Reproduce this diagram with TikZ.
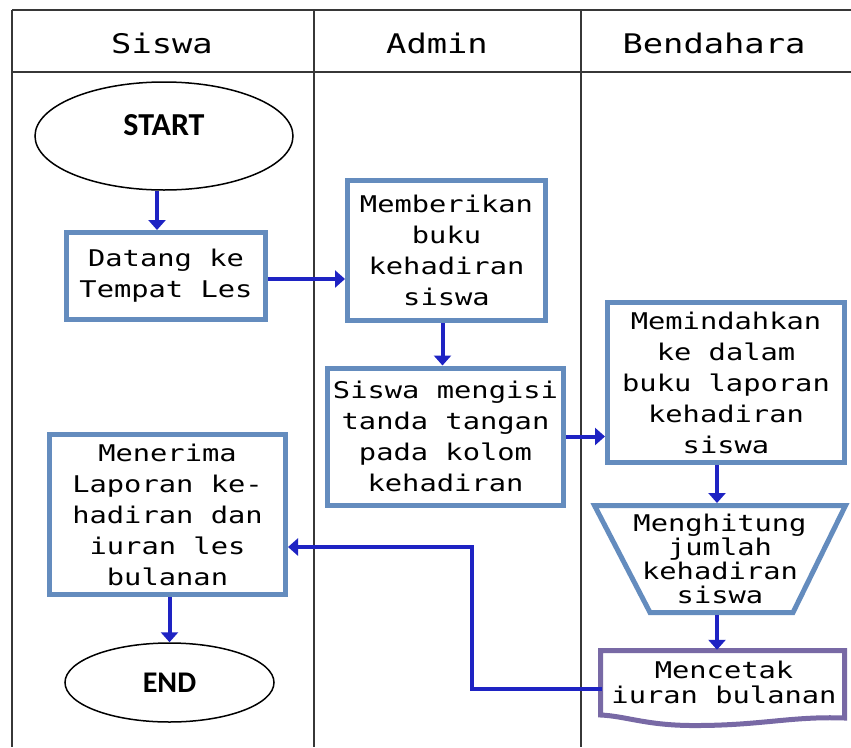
\documentclass[tikz,border=0pt]{standalone}
\usepackage{fontspec}
\usetikzlibrary{arrows.meta,shapes.geometric,calc}
\newfontfamily\pixmono[FakeStretch=1.25]{DejaVu Sans Mono}
\newfontfamily\termfont{Carlito}
\definecolor{laneline}{RGB}{55,55,55}
\definecolor{boxblue}{RGB}{100,140,190}
\definecolor{flowblue}{RGB}{30,35,195}
\definecolor{docline}{RGB}{120,105,165}

\begin{document}
\begin{tikzpicture}[x=1pt,y=-1pt,
  lane/.style={draw=laneline,line width=2pt},
  lanetitle/.style={inner sep=0pt,font={\pixmono\fontsize{27}{30}\selectfont}},
  proctext/.style={align=center,inner sep=0pt,font={\pixmono\fontsize{23}{31}\selectfont}},
  procbox/.style={proctext,draw=boxblue,line width=5pt,fill=white},
  terminal/.style={ellipse,draw=black,line width=1.5pt,fill=white,inner sep=0pt},
  termlabel/.style={font={\termfont\bfseries\fontsize{32}{34}\selectfont}},
  flow/.style={draw=flowblue,line width=4pt,-{Triangle[width=17pt,length=10pt]}},
]
\useasboundingbox[fill=white] (0,0) rectangle (851,747);

% swimlane frame
\draw[lane] (12,10) -- (851,10);
\draw[lane] (12,72) -- (851,72);
\draw[lane] (12,10) -- (12,747);
\draw[lane] (314,10) -- (314,747);
\draw[lane] (581,10) -- (581,747);

\node[lanetitle] (laneA) at (162,43) {Siswa};
\node[lanetitle] (laneB) at (437,43) {Admin};
\node[lanetitle] (laneC) at (714,43) {Bendahara};

% Siswa lane
\node[terminal,minimum width=258,minimum height=108,
      label={[termlabel,yshift=11pt]center:START}] (start) at (164,136) {};
\node[procbox,minimum width=199,minimum height=87] (arrive) at (166,276)
  {Datang ke\\Tempat Les};
\node[procbox,minimum width=236,minimum height=160] (receive) at (167.5,514.5)
  {Menerima\\Laporan ke-\\hadiran dan\\iuran les\\bulanan};
\node[terminal,minimum width=209,minimum height=79,
      label={[termlabel,font={\termfont\bfseries\fontsize{30}{32}\selectfont}]center:END}] (end) at (169.5,682.5) {};

% Admin lane
\node[procbox,minimum width=198,minimum height=140] (give) at (446.5,250.5)
  {Memberikan\\buku\\kehadiran\\siswa};
\node[procbox,minimum width=236,minimum height=137] (sign) at (445.5,436.5)
  {Siswa mengisi\\tanda tangan\\pada kolom\\kehadiran};

% Bendahara lane
\node[procbox,minimum width=237,minimum height=160] (move) at (726,382.5)
  {Memindahkan\\ke dalam\\buku laporan\\kehadiran\\siswa};

% manual operation (inverted trapezium)
\draw[draw=boxblue,line width=5pt,fill=white,line join=miter]
  (594.5,505.5) -- (845.5,505.5) -- (793,612.5) -- (650,612.5) -- cycle;
\node[proctext,font={\pixmono\fontsize{23}{24}\selectfont}] (count) at (720,559)
  {Menghitung\\jumlah\\kehadiran\\siswa};
\coordinate (ctop) at (717,503);
\coordinate (cbot) at (717,615);

% printed document
\draw[draw=docline,line width=5pt,fill=white,line join=miter]
  (600.5,650.5) -- (844.5,650.5) -- (844.5,718)
  .. controls (790,716) and (760,726) .. (690,725.5)
  .. controls (645,725) and (625,716) .. (600.5,715) -- cycle;
\node[proctext,font={\pixmono\fontsize{23}{25}\selectfont},
      minimum width=244,minimum height=64] (print) at (724,682)
  {Mencetak\\iuran bulanan};
\coordinate (turn) at (472,547);

% connectors
\draw[flow] ([xshift=-7pt]start.south) -- ([xshift=-7pt]start.south |- arrive.north);
\draw[flow] ([yshift=-3pt]arrive.east) -- ([yshift=-3pt]arrive.east -| give.west);
\draw[flow] ([xshift=-4pt]give.south) -- ([xshift=-4pt]give.south |- sign.north);
\draw[flow] (sign.east) -- (sign.east -| move.west);
\draw[flow] (move.south -| ctop) -- (ctop);
\draw[flow] (cbot) -- (cbot |- print.north);
\draw[flow] ([yshift=-7pt]print.west) -| (turn) -- (turn -| receive.east);
\draw[flow] ([xshift=2pt]receive.south) -- ([xshift=2pt]receive.south |- end.north);
\end{tikzpicture}
\end{document}
